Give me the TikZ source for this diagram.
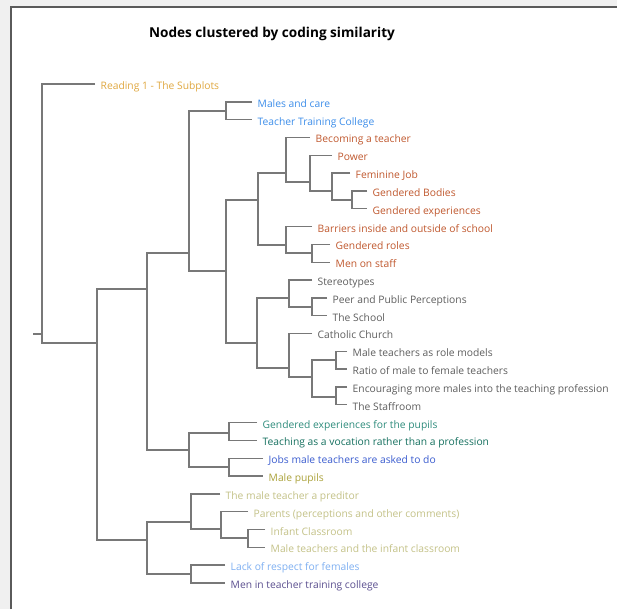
\documentclass[tikz,border=0pt]{standalone}
\usepackage{fontspec}
\setmainfont{Open Sans}
\definecolor{linegray}{HTML}{787878}
\definecolor{bgout}{HTML}{F0F0F0}
\definecolor{framec}{HTML}{5A5A5A}
\definecolor{cGold}{HTML}{E0A840}
\definecolor{cBlue}{HTML}{3D8EEA}
\definecolor{cBrown}{HTML}{C0582E}
\definecolor{cGray}{HTML}{5E5E5E}
\definecolor{cTealA}{HTML}{2E8C7C}
\definecolor{cTealB}{HTML}{15705F}
\definecolor{cJobs}{HTML}{3A5CCF}
\definecolor{cOlive}{HTML}{ABA23A}
\definecolor{cLight}{HTML}{C4C288}
\definecolor{cLack}{HTML}{7FB0F2}
\definecolor{cPurple}{HTML}{5B4F8F}
\begin{document}
\begin{tikzpicture}[x=1pt,y=-1pt,
  link/.style={draw=linegray, line width=1.4pt},
  leaf/.style={anchor=west, inner xsep=5.5pt, inner ysep=0pt, text height=11pt, text depth=0pt, font=\fontsize{10.3}{12}\selectfont},
  titlestyle/.style={font=\fontsize{13.6}{15}\selectfont\bfseries, inner sep=0pt}
]
\useasboundingbox (0,0) rectangle (617,609);
\fill[bgout] (0,0) rectangle (617,609);
\fill[white] (11,7) rectangle (617,609);
\draw[framec, line width=1.2pt] (11,609) -- (11,7) -- (617,7);

\node[titlestyle, anchor=base] (title) at (272,38) {Nodes clustered by coding similarity};

\def\dy{17.82}
\node[leaf, text=cGold]   (l0)  at (95,84) {Reading 1 - The Subplots};
\node[leaf, text=cBlue]   (l1)  at (252,{84+1*\dy}) {Males and care};
\node[leaf, text=cBlue]   (l2)  at (252,{84+2*\dy}) {Teacher Training College};
\node[leaf, text=cBrown]  (l3)  at (310,{84+3*\dy}) {Becoming a teacher};
\node[leaf, text=cBrown]  (l4)  at (332,{84+4*\dy}) {Power};
\node[leaf, text=cBrown]  (l5)  at (350,{84+5*\dy}) {Feminine Job};
\node[leaf, text=cBrown]  (l6)  at (367,{84+6*\dy}) {Gendered Bodies};
\node[leaf, text=cBrown]  (l7)  at (367,{84+7*\dy}) {Gendered experiences};
\node[leaf, text=cBrown]  (l8)  at (312,{84+8*\dy}) {Barriers inside and outside of school};
\node[leaf, text=cBrown]  (l9)  at (330,{84+9*\dy}) {Gendered roles};
\node[leaf, text=cBrown]  (l10) at (330,{84+10*\dy}) {Men on staff};
\node[leaf, text=cGray]   (l11) at (312,{84+11*\dy}) {Stereotypes};
\node[leaf, text=cGray]   (l12) at (327,{84+12*\dy}) {Peer and Public Perceptions};
\node[leaf, text=cGray]   (l13) at (327,{84+13*\dy}) {The School};
\node[leaf, text=cGray]   (l14) at (312,{84+14*\dy}) {Catholic Church};
\node[leaf, text=cGray]   (l15) at (347,{84+15*\dy}) {Male teachers as role models};
\node[leaf, text=cGray]   (l16) at (347,{84+16*\dy}) {Ratio of male to female teachers};
\node[leaf, text=cGray]   (l17) at (347,{84+17*\dy}) {Encouraging more males into the teaching profession};
\node[leaf, text=cGray]   (l18) at (347,{84+18*\dy}) {The Staffroom};
\node[leaf, text=cTealA]  (l19) at (257,{84+19*\dy}) {Gendered experiences for the pupils};
\node[leaf, text=cTealB]  (l20) at (257,{84+20*\dy}) {Teaching as a vocation rather than a profession};
\node[leaf, text=cJobs]   (l21) at (263,{84+21*\dy}) {Jobs male teachers are asked to do};
\node[leaf, text=cOlive]  (l22) at (263,{84+22*\dy}) {Male pupils};
\node[leaf, text=cLight]  (l23) at (220,{84+23*\dy}) {The male teacher a preditor};
\node[leaf, text=cLight]  (l24) at (248,{84+24*\dy}) {Parents (perceptions and other comments)};
\node[leaf, text=cLight]  (l25) at (265,{84+25*\dy}) {Infant Classroom};
\node[leaf, text=cLight]  (l26) at (265,{84+26*\dy}) {Male teachers and the infant classroom};
\node[leaf, text=cLack]   (l27) at (225,{84+27*\dy}) {Lack of respect for females};
\node[leaf, text=cPurple] (l28) at (225,{84+28*\dy}) {Men in teacher training college};

\coordinate (mc) at (226,111);  \draw[link] (l1.west) -| (mc) |- (l2.west);
\coordinate (g) at (352,200);   \draw[link] (l6.west) -| (g) |- (l7.west);
\coordinate (f) at (332,191);   \draw[link] (l5.west) -| (f) |- (g);
\coordinate (p) at (310,182);   \draw[link] (l4.west) -| (p) |- (f);
\coordinate (b) at (286,173);   \draw[link] (l3.west) -| (b) |- (p);
\coordinate (rs) at (312,253);  \draw[link] (l9.west) -| (rs) |- (l10.west);
\coordinate (bar) at (286,245); \draw[link] (l8.west) -| (bar) |- (rs);
\coordinate (D) at (258,200);   \draw[link] (b) -| (D) |- (bar);
\coordinate (ps) at (312,307);  \draw[link] (l12.west) -| (ps) |- (l13.west);
\coordinate (st) at (289,298);  \draw[link] (l11.west) -| (st) |- (ps);
\coordinate (mr) at (336,360);  \draw[link] (l15.west) -| (mr) |- (l16.west);
\coordinate (es) at (336,397);  \draw[link] (l17.west) -| (es) |- (l18.west);
\coordinate (mres) at (312,377);\draw[link] (mr) -| (mres) |- (es);
\coordinate (cc) at (289,368);  \draw[link] (l14.west) -| (cc) |- (mres);
\coordinate (E) at (257,343);   \draw[link] (st) -| (E) |- (cc);
\coordinate (C) at (226,271);   \draw[link] (D) -| (C) |- (E);
\coordinate (U) at (189,253);   \draw[link] (mc) -| (U) |- (C);
\coordinate (gt) at (229,433);  \draw[link] (l19.west) -| (gt) |- (l20.west);
\coordinate (jm) at (229,467);  \draw[link] (l21.west) -| (jm) |- (l22.west);
\coordinate (V) at (189,450);   \draw[link] (gt) -| (V) |- (jm);
\coordinate (B) at (147,289);   \draw[link] (U) -| (B) |- (V);
\coordinate (im) at (248,538);  \draw[link] (l25.west) -| (im) |- (l26.west);
\coordinate (pa) at (221,529);  \draw[link] (l24.west) -| (pa) |- (im);
\coordinate (pr) at (191,522);  \draw[link] (l23.west) -| (pr) |- (pa);
\coordinate (lm) at (191,574);  \draw[link] (l27.west) -| (lm) |- (l28.west);
\coordinate (low) at (147,540); \draw[link] (pr) -| (low) |- (lm);
\coordinate (A) at (97,343);    \draw[link] (B) -| (A) |- (low);
\coordinate (R) at (42,334);    \draw[link] (l0.west) -| (R) |- (A);
\coordinate (stub) at (33,334); \draw[link] (stub) -- (R);
\end{tikzpicture}
\end{document}
